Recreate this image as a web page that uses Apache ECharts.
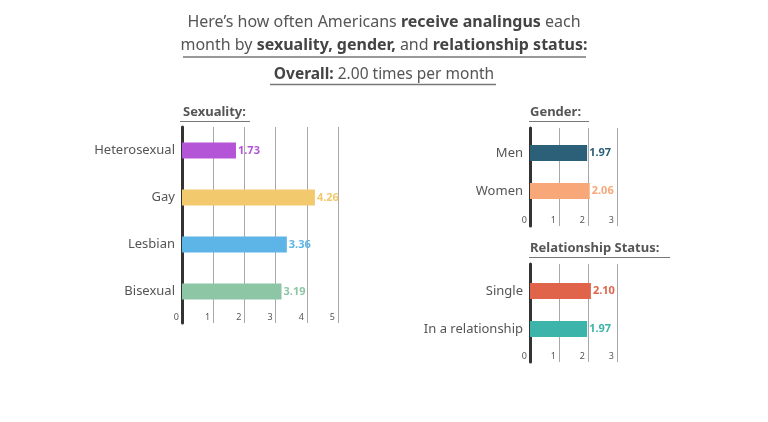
<!DOCTYPE html>
<html><head><meta charset="utf-8">
<script src="https://cdn.jsdelivr.net/npm/echarts@6/dist/echarts.min.js"></script>
<style>html,body{margin:0;padding:0;background:#fff}#c{width:768px;height:422px}</style>
</head><body><div id="c"></div>
<script>
const FONT = 'Noto Sans';
const sexCats = ['Heterosexual', 'Gay', 'Lesbian', 'Bisexual'];
const sexVals = [1.73, 4.26, 3.36, 3.19];
const sexColors = ['#b455d8', '#f2c96c', '#5cb5e6', '#8dc6a5'];
const sexMax = 5;

const genderCats = ['Men', 'Women'];
const genderVals = [1.97, 2.06];
const genderColors = ['#2c6079', '#f8a878'];
const genderMax = 3;

const relCats = ['Single', 'In a relationship'];
const relVals = [2.10, 1.97];
const relColors = ['#e0644a', '#3cb4a9'];
const relMax = 3;

const panels = [
  {cats: sexCats, vals: sexVals, colors: sexColors, max: sexMax,
   frame: {left: 182, top: 127, width: 156, bottom: 323},
   bars: {top: 127, height: 188}},
  {cats: genderCats, vals: genderVals, colors: genderColors, max: genderMax,
   frame: {left: 530, top: 128, width: 87, bottom: 226},
   bars: {top: 134, height: 76}},
  {cats: relCats, vals: relVals, colors: relColors, max: relMax,
   frame: {left: 530, top: 264, width: 87, bottom: 362},
   bars: {top: 272, height: 76}}
];

const grid = [], xAxis = [], yAxis = [], series = [];
panels.forEach((p, i) => {
  grid.push({left: p.frame.left, top: p.frame.top, width: p.frame.width, height: p.frame.bottom - p.frame.top});
  xAxis.push({gridIndex: 2*i, type: 'value', min: 0, max: p.max, interval: 1,
    axisLine: {show: false}, axisTick: {show: false},
    splitLine: {show: true, lineStyle: {color: '#a8a8a8', width: 1}},
    axisLabel: {inside: true, margin: 1, align: 'right', padding: [0, 3, 0, 0], fontSize: 9, color: '#555', fontFamily: FONT}});
  yAxis.push({gridIndex: 2*i, type: 'value', min: 0, max: 1, show: true,
    axisLine: {show: true, lineStyle: {color: '#333', width: 3}}, axisTick: {show: false},
    axisLabel: {show: false}, splitLine: {show: false}});
  grid.push({left: p.frame.left, top: p.bars.top, width: p.frame.width, height: p.bars.height});
  xAxis.push({gridIndex: 2*i+1, type: 'value', min: 0, max: p.max, show: false});
  yAxis.push({gridIndex: 2*i+1, type: 'category', data: p.cats, inverse: true,
    axisLine: {show: false}, axisTick: {show: false},
    axisLabel: {margin: 7, fontSize: 13, color: '#555', fontFamily: FONT}});
  series.push({type: 'bar', xAxisIndex: 2*i+1, yAxisIndex: 2*i+1, barWidth: 16,
    data: p.vals.map((v, k) => ({value: v, itemStyle: {color: p.colors[k]},
      label: {color: p.colors[k]}})),
    label: {show: true, position: 'right', distance: 2, fontSize: 11, fontWeight: 'bold', fontFamily: FONT,
      formatter: d => d.value.toFixed(2)},
    z: 3});
});

const rich = {
  n: {fontSize: 16, color: '#555', fontWeight: 'normal', fontFamily: FONT, lineHeight: 23},
  b: {fontSize: 16, color: '#444', fontWeight: 'bold', fontFamily: FONT, lineHeight: 23}
};
const rich2 = {
  n: {fontSize: 15.5, color: '#555', fontWeight: 'normal', fontFamily: FONT},
  b: {fontSize: 15.5, color: '#444', fontWeight: 'bold', fontFamily: FONT}
};
const secStyle = {fontSize: 13, fontWeight: 'bold', color: '#555', fontFamily: FONT};

const option = {
  animation: false,
  backgroundColor: '#fff',
  title: [
    {text: "{n|Here\u2019s how often Americans }{b|receive analingus}{n| each}\n{n|month by }{b|sexuality, gender,}{n| and }{b|relationship status:}",
     left: 'center', top: 6, textStyle: {fontWeight: 'normal', align: 'center', rich: rich}},
    {text: "{b|Overall:}{n| 2.00 times per month}", left: 'center', top: 62, textStyle: {fontWeight: 'normal', rich: rich2}},
    {text: 'Sexuality:', left: 183, top: 106, padding: 0, textStyle: secStyle},
    {text: 'Gender:', left: 530, top: 106, padding: 0, textStyle: secStyle},
    {text: 'Relationship Status:', left: 530, top: 242, padding: 0, textStyle: secStyle}
  ],
  graphic: [
    {type: 'line', shape: {x1: 183, y1: 57, x2: 586, y2: 57}, style: {stroke: '#777', lineWidth: 1.5}},
    {type: 'line', shape: {x1: 270, y1: 84.5, x2: 496, y2: 84.5}, style: {stroke: '#777', lineWidth: 1.5}},
    {type: 'line', shape: {x1: 180, y1: 121.5, x2: 250, y2: 121.5}, style: {stroke: '#777', lineWidth: 1}},
    {type: 'line', shape: {x1: 529, y1: 121.5, x2: 589, y2: 121.5}, style: {stroke: '#777', lineWidth: 1}},
    {type: 'line', shape: {x1: 529, y1: 257.5, x2: 670, y2: 257.5}, style: {stroke: '#777', lineWidth: 1}}
  ],
  grid, xAxis, yAxis, series
};
const chart = echarts.init(document.getElementById('c'), null, {renderer: 'canvas'});
chart.setOption(option);
</script></body></html>
